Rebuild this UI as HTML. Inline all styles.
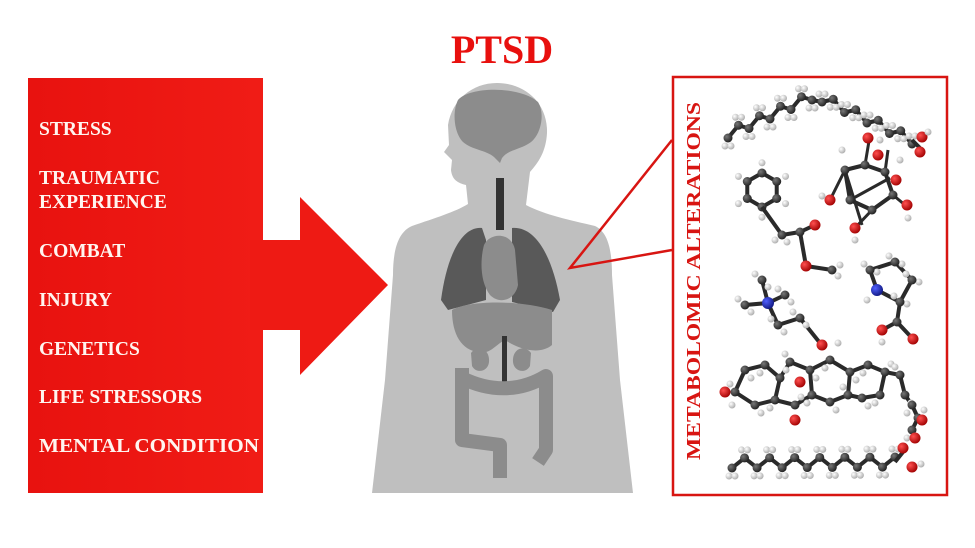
<!DOCTYPE html>
<html><head><meta charset="utf-8"><style>
html,body{margin:0;padding:0;background:#fff;}
svg{display:block;}
</style></head><body>
<svg id="s" width="975" height="548" viewBox="0 0 975 548" xmlns="http://www.w3.org/2000/svg">
<defs>
<linearGradient id="rg" x1="0" y1="0" x2="1" y2="0">
<stop offset="0" stop-color="#e8120f"/><stop offset="1" stop-color="#f01c16"/>
</linearGradient>
<radialGradient id="gC" cx="0.35" cy="0.35" r="0.7"><stop offset="0" stop-color="#777"/><stop offset="1" stop-color="#1e1e1e"/></radialGradient>
<radialGradient id="gH" cx="0.35" cy="0.35" r="0.7"><stop offset="0" stop-color="#fff"/><stop offset="1" stop-color="#aaa"/></radialGradient>
<radialGradient id="gO" cx="0.35" cy="0.35" r="0.7"><stop offset="0" stop-color="#ff5050"/><stop offset="1" stop-color="#a00000"/></radialGradient>
<radialGradient id="gN" cx="0.35" cy="0.35" r="0.7"><stop offset="0" stop-color="#5060ff"/><stop offset="1" stop-color="#101880"/></radialGradient>
</defs>

<text x="502" y="63" text-anchor="middle" font-family="Liberation Serif, serif" font-weight="bold" font-size="40" fill="#e8100e">PTSD</text>

<rect x="28" y="78" width="235" height="415" fill="url(#rg)"/>
<polygon points="250,240 300,240 300,197 388,285 300,375 300,330 250,330" fill="#ee1a14"/>
<g font-family="Liberation Serif, serif" font-weight="bold" font-size="19.5" fill="#fff5f0">
<text x="39" y="135">STRESS</text>
<text x="39" y="184">TRAUMATIC</text>
<text x="39" y="208">EXPERIENCE</text>
<text x="39" y="257">COMBAT</text>
<text x="39" y="306">INJURY</text>
<text x="39" y="355">GENETICS</text>
<text x="39" y="403">LIFE STRESSORS</text>
<text x="39" y="452" textLength="220" lengthAdjust="spacingAndGlyphs">MENTAL CONDITION</text>
</g>

<!-- human -->
<g fill="#bfbfbf">
<path d="M497,83 C525,83 548,103 547,133 C546,152 538,163 530,172 L526,205 C545,215 570,220 595,226 C608,232 612,250 612,275 L620,380 L633,493 L372,493 L385,380 L393,275 C393,250 398,232 412,226 C435,218 455,212 468,204 L466,185 C458,183 452,180 451,170 L452,160 L444,152 L449,145 L448,125 C452,100 472,83 497,83 Z"/>
</g>
<g fill="#8c8c8c">
<path d="M458,100 C470,86 520,86 538,102 C546,115 540,138 528,144 C518,150 508,150 502,158 L500,163 L494,157 C486,150 472,150 463,142 C454,133 452,112 458,100 Z"/>
</g>
<g fill="#595959">
<path d="M482,228 C462,226 447,255 441,300 L448,310 L486,300 L486,240 Z"/>
<path d="M512,228 C535,226 552,255 560,300 L553,312 L512,302 L512,240 Z"/>
</g>
<rect x="496" y="178" width="8" height="52" fill="#333"/>
<path d="M484,245 C490,232 512,232 515,250 L518,285 C515,300 500,305 490,295 C480,282 480,260 484,245 Z" fill="#8c8c8c"/>
<path d="M452,310 C470,300 520,300 552,310 L552,345 C540,355 520,350 505,340 C495,345 490,355 478,352 C462,350 452,335 452,310 Z" fill="#8c8c8c"/>
<path d="M471,353 C478,344 490,349 489,362 C488,372 476,374 472,366 Z" fill="#8c8c8c"/>
<path d="M531,353 C524,344 512,349 513,362 C514,372 526,374 530,366 Z" fill="#8c8c8c"/>
<rect x="502" y="336" width="5" height="46" fill="#333"/>
<path d="M462,368 L462,440 L500,445 L500,478 M462,378 C490,392 520,392 546,376 L546,450 L538,462" fill="none" stroke="#8c8c8c" stroke-width="14" stroke-linejoin="round"/>

<!-- callout -->
<polyline points="672,140 570,268 672,250" fill="none" stroke="#d81512" stroke-width="2.5"/>
<rect x="673" y="77" width="274" height="418" fill="#fff" stroke="#d81512" stroke-width="2.5"/>
<text transform="translate(700,460) rotate(-90)" x="0" y="0" font-family="Liberation Serif, serif" font-weight="bold" font-size="20" fill="#d81512" textLength="358" lengthAdjust="spacingAndGlyphs">METABOLOMIC ALTERATIONS</text>
<g id="mol"></g>
</svg>
<script>
var g=document.getElementById('mol'),NS='http://www.w3.org/2000/svg';
function line(a,b,w){var l=document.createElementNS(NS,'line');l.setAttribute('x1',a[0]);l.setAttribute('y1',a[1]);l.setAttribute('x2',b[0]);l.setAttribute('y2',b[1]);l.setAttribute('stroke','#2a2a2a');l.setAttribute('stroke-width',w||4);g.appendChild(l);}
function ball(p,t){var c=document.createElementNS(NS,'circle');c.setAttribute('cx',p[0]);c.setAttribute('cy',p[1]);var r={C:4.5,H:3.5,O:5.5,N:6}[t];c.setAttribute('r',r);c.setAttribute('fill','url(#g'+t+')');g.appendChild(c);}
function chain(pts,hs){for(var i=0;i<pts.length-1;i++)line(pts[i],pts[i+1]);
 if(hs!==false)pts.forEach(function(p,i){ball([p[0]-3,p[1]+(i%2?-8:8)],'H');ball([p[0]+3,p[1]+(i%2?-8:8)],'H');});
 pts.forEach(function(p){ball(p,'C');});}
function zig(x0,y0,x1,y1,n,a){var p=[];for(var i=0;i<n;i++){var t=i/(n-1);p.push([x0+(x1-x0)*t,y0+(y1-y0)*t+(i%2?-a:a)]);}return p;}
var c1=zig(728,134,812,96,9,4).concat(zig(822,98,912,140,9,4));
chain(c1);line([912,140],[920,148]);ball([922,137],'O');ball([928,132],'H');ball([920,152],'O');
var ring=[];for(var i=0;i<6;i++){var a=Math.PI/3*i+Math.PI/6;ring.push([762+17*Math.cos(a),190+17*Math.sin(a)]);}
for(i=0;i<6;i++)line(ring[i],ring[(i+1)%6]);
ring.forEach(function(p){var d=[p[0]-762,p[1]-190];ball([p[0]+d[0]*0.6,p[1]+d[1]*0.6],'H');ball(p,'C');});
var b1=[[772,205],[782,235],[800,232]];
line(ring[1],b1[1]);line(b1[1],b1[2]);line(b1[2],[815,225]);line(b1[2],[806,266]);line([806,266],[832,270]);
ball([775,240],'H');ball([787,242],'H');ball(b1[1],'C');ball(b1[2],'C');ball([815,225],'O');ball([806,266],'O');ball([840,265],'H');ball([838,276],'H');ball([832,270],'C');
var s=[[845,170],[865,165],[885,172],[893,195],[872,210],[850,200]];
for(i=0;i<6;i++)line(s[i],s[(i+1)%6]);
[[830,200],[870,135],[888,150],[905,205],[855,228],[890,178],[862,225]].forEach(function(p,i){line(s[i%6],p,3);});
s.forEach(function(p){ball(p,'C');});
[[830,200],[868,138],[878,155],[907,205],[855,228],[896,180]].forEach(function(p){ball(p,'O');});
[[822,196],[855,240],[908,218],[900,160],[842,150],[880,140]].forEach(function(p){ball(p,'H');});
var N=[768,303];[[745,305],[762,280],[785,295],[778,325]].forEach(function(p){line(N,p);});
line([778,325],[800,318]);line([800,318],[820,343]);
[[745,305],[762,280],[785,295],[778,325],[800,318]].forEach(function(p){ball([p[0]-7,p[1]-6],'H');ball([p[0]+6,p[1]+7],'H');ball(p,'C');});
ball(N,'N');ball([822,345],'O');ball([838,343],'H');
var pr=[[877,290],[870,270],[895,262],[912,280],[900,302]];
for(i=0;i<5;i++)line(pr[i],pr[(i+1)%5]);line(pr[4],[897,322]);line([897,322],[882,330]);line([897,322],[912,338]);
pr.slice(1).forEach(function(p){ball([p[0]-6,p[1]-6],'H');ball([p[0]+7,p[1]+2],'H');ball(p,'C');});
ball(pr[0],'N');ball([867,300],'H');ball([897,322],'C');ball([882,330],'O');ball([913,339],'O');ball([882,342],'H');
var st=[[735,392],[745,370],[765,365],[780,378],[775,400],[755,405],[790,362],[810,370],[812,395],[795,405],[830,360],[850,372],[848,395],[830,402],[868,365],[885,372],[880,395],[862,398],[900,375],[905,395],[912,405],[918,418],[912,430]];
var bonds=[[0,1],[1,2],[2,3],[3,4],[4,5],[5,0],[3,6],[6,7],[7,8],[8,9],[9,4],[7,10],[10,11],[11,12],[12,13],[13,8],[11,14],[14,15],[15,16],[16,17],[17,12],[15,18],[18,19],[19,20],[20,21],[21,22]];
bonds.forEach(function(b){line(st[b[0]],st[b[1]]);});
st.forEach(function(p,i){ball([p[0]+(i%2?6:-5),p[1]+(i%3?8:-8)],'H');});
st.forEach(function(p){ball(p,'C');});
ball([725,392],'O');ball([732,405],'H');ball([800,382],'O');ball([795,420],'O');ball([922,420],'O');ball([915,438],'O');
var c2=zig(732,463,895,462,14,5);chain(c2);line([895,462],[903,452]);ball([903,448],'O');ball([912,467],'O');ball([921,464],'H');
</script>
</body></html>
